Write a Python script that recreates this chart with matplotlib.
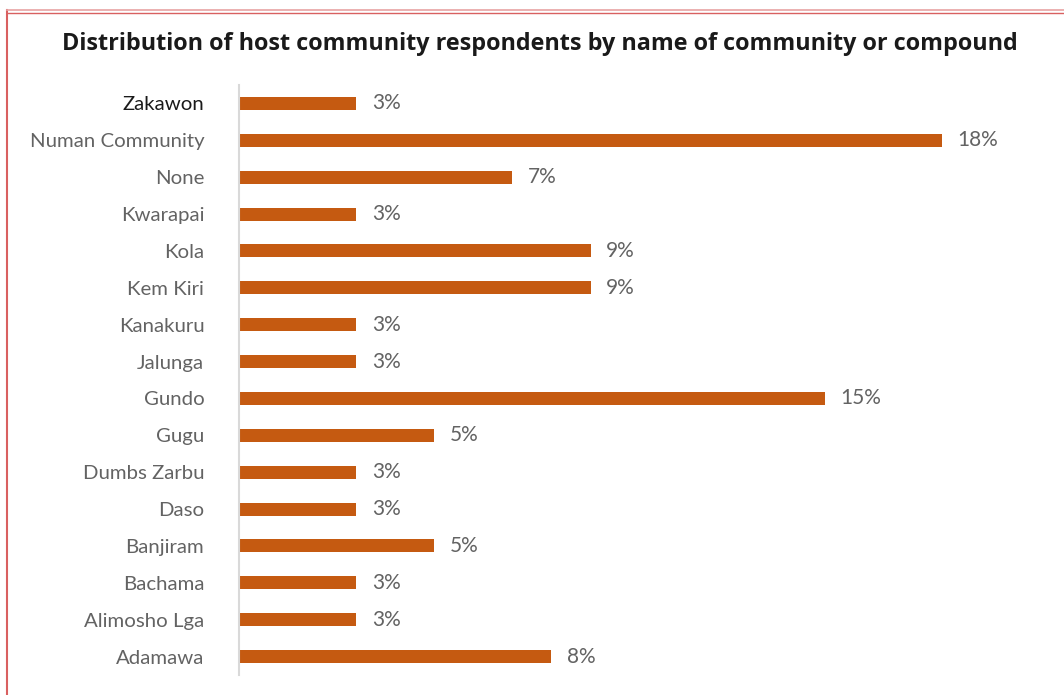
import matplotlib.pyplot as plt
from matplotlib.lines import Line2D
from matplotlib import font_manager

communities = ['Adamawa', 'Alimosho Lga', 'Bachama', 'Banjiram', 'Daso', 'Dumbs Zarbu',
               'Gugu', 'Gundo', 'Jalunga', 'Kanakuru', 'Kem Kiri', 'Kola', 'Kwarapai',
               'None', 'Numan Community', 'Zakawon']
shares = [8, 3, 3, 5, 3, 3, 5, 15, 3, 3, 9, 9, 3, 7, 18, 3]

bar_color = '#C55A11'
label_color = '#636363'

names = {f.name for f in font_manager.fontManager.ttflist}
light_font = 'Lato' if 'Lato' in names else 'DejaVu Sans'
title_font = 'Open Sans' if 'Open Sans' in names else 'DejaVu Sans'

fig = plt.figure(figsize=(10.64, 6.95), dpi=100)
ax = fig.add_axes([239 / 1064, 20 / 695, 800 / 1064, 590 / 695])

y = list(range(len(communities)))
ax.barh(y, shares, height=0.35, color=bar_color)
for yi, v in zip(y, shares):
    ax.text(v + 0.4, yi, f'{v}%', va='center', ha='left', fontsize=15,
            color=label_color, family=light_font)

ax.set_ylim(-0.5, 15.5)
ax.set_xlim(0, 18 * 800 / 703)
ax.set_yticks(y)
labels = ax.set_yticklabels(communities, family=light_font, fontsize=14.7,
                            color=label_color)
labels[-1].set_color('#1a1a1a')
ax.tick_params(axis='y', length=0, pad=25)
ax.set_xticks([])
for s in ['top', 'right', 'bottom']:
    ax.spines[s].set_visible(False)
ax.spines['left'].set_color('#D9D9D9')
ax.spines['left'].set_linewidth(1.5)

fig.text(540 / 1064, 1 - 44 / 695, 'Distribution of host community respondents by name of community or compound',
         ha='center', va='center', fontsize=16.8, fontweight='bold', color='#1a1a1a',
         family=title_font)

# frame lines
fig.add_artist(Line2D([7 / 1064, 7 / 1064], [0, 1 - 10 / 695], color='#D96060', lw=1.5))
fig.add_artist(Line2D([7 / 1064, 1], [1 - 10 / 695, 1 - 10 / 695], color='#E8A3A3', lw=1.2))
fig.add_artist(Line2D([7 / 1064, 1], [1 - 13 / 695, 1 - 13 / 695], color='#D96060', lw=1.0))

fig.savefig('out.png', dpi=100)
